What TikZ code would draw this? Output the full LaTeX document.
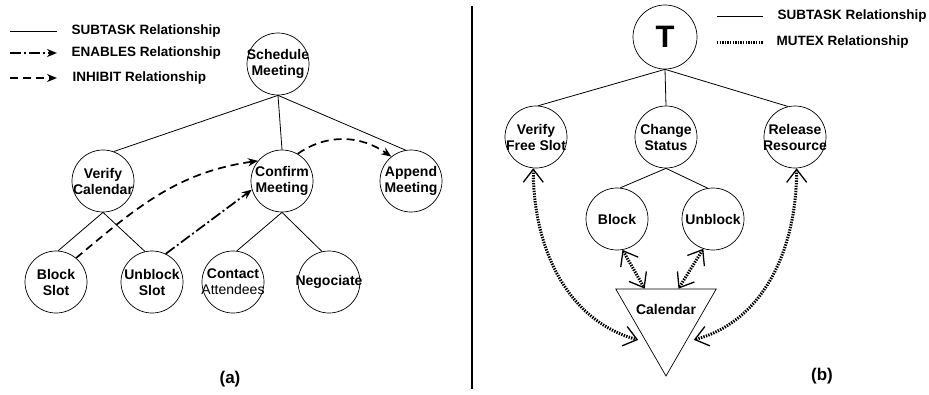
\documentclass[tikz,border=0pt]{standalone}
\usepackage{fontspec}
\setmainfont{Liberation Sans}
\usetikzlibrary{arrows.meta, shapes.geometric}

\begin{document}
\begin{tikzpicture}[x=1pt, y=1pt,
    every node/.style={font=\fontsize{14}{16}\selectfont\bfseries, align=center},
    task/.style={draw, circle, minimum size=62pt, inner sep=-4pt, line width=0.7pt},
    subtask/.style={line width=0.8pt},
    enables/.style={line width=1.7pt, dash pattern=on 11pt off 3pt on 2pt off 3pt, -{Stealth[length=10pt, width=8pt]}},
    inhibit/.style={line width=1.7pt, dash pattern=on 8pt off 5pt, -{Stealth[length=10pt, width=8pt]}},
    mutexline/.style={line width=3pt, dash pattern=on 1.4pt off 1.2pt},
    mutex/.style={mutexline, {Straight Barb[length=13pt, width=20pt, line width=1.3pt]}-{Straight Barb[length=13pt, width=20pt, line width=1.3pt]}},
    legtext/.style={anchor=west, font=\fontsize{13.5}{15}\selectfont\bfseries}]

  \useasboundingbox (0,0) rectangle (929,-394);

  % (a) legend
  \coordinate (subA) at (10,-31);  \coordinate (subB) at (57,-31);
  \coordinate (enA) at (10,-53);   \coordinate (enB) at (57,-53);
  \coordinate (inA) at (10,-78);   \coordinate (inB) at (57,-78);
  \draw[subtask] (subA) -- (subB);
  \draw[enables] (enA) -- (enB);
  \draw[inhibit] (inA) -- (inB);
  \node[legtext] (subtxt) at (68,-31) {SUBTASK Relationship};
  \node[legtext] (entxt) at (68,-53) {ENABLES Relationship};
  \node[legtext] (intxt) at (69,-78) {INHIBIT Relationship};

  % (a) task tree
  \node[task] (sched) at (278,-64) {Schedule\\Meeting};
  \node[task] (vcal) at (103,-181) {Verify\\Calendar};
  \node[task] (conf) at (282,-181) {Confirm\\Meeting};
  \node[task] (app) at (411,-181) {Append\\Meeting};
  \node[task] (bslot) at (56,-282) {Block\\Slot};
  \node[task] (uslot) at (152,-282) {Unblock\\Slot};
  \node[task] (contact) at (233,-282) {Contact\\{\mdseries Attendees}};
  \node[task] (nego) at (329,-282) {Negociate};

  \draw[subtask] (sched.south) -- (vcal.70);
  \draw[subtask] (sched.south) -- (conf.north);
  \draw[subtask] (sched.south) -- (app.100);
  \draw[subtask] (vcal.south) -- (bslot.86);
  \draw[subtask] (vcal.south) -- (uslot.103);
  \draw[subtask] (conf.south) -- (contact.83);
  \draw[subtask] (conf.south) -- (nego.103);

  \draw[inhibit] (bslot.50) to[out=40, in=188] (conf.140);
  \draw[inhibit] (conf.60) to[out=35, in=145] (app.129);
  \draw[enables] (uslot.64) -- (conf.196);

  \node[font=\fontsize{17}{17}\selectfont\bfseries] (capA) at (230,-379) {(a)};

  % divider
  \draw[line width=1.5pt] (472,-6) -- (472,-389);

  % (b) legend
  \coordinate (subC) at (717,-16); \coordinate (subD) at (763,-16);
  \coordinate (muA) at (717,-42);  \coordinate (muB) at (763,-42);
  \draw[subtask] (subC) -- (subD);
  \draw[mutexline] (muA) -- (muB);
  \node[legtext] (subtxtb) at (774,-16) {SUBTASK Relationship};
  \node[legtext] (mutxt) at (773,-42) {MUTEX Relationship};

  % (b) task tree
  \node[task, minimum size=64pt, font=\fontsize{31}{31}\selectfont\bfseries] (top) at (665,-37) {T};
  \node[task] (vfs) at (536,-137) {Verify\\Free Slot};
  \node[task] (chg) at (666,-137) {Change\\Status};
  \node[task] (rel) at (795,-137) {Release\\Resource};
  \node[task] (blk) at (617,-219) {Block};
  \node[task] (ublk) at (713,-219) {Unblock};
  \node[draw, line width=0.7pt, regular polygon, regular polygon sides=3, shape border rotate=180,
        minimum size=116pt, inner sep=0pt, label={[yshift=9pt]center:Calendar}] (cal) at (666,-318) {};

  \draw[subtask] (top.south) -- (vfs.86);
  \draw[subtask] (top.south) -- (chg.north);
  \draw[subtask] (top.south) -- (rel.103);
  \draw[subtask] (chg.south) -- (blk.84);
  \draw[subtask] (chg.south) -- (ublk.100);

  \draw[mutex, shorten >=8pt] (vfs.-95) to[out=-90, in=165] (cal.-130);
  \draw[mutex, shorten >=8pt] (rel.-87) to[out=-90, in=15] (cal.-50);
  \draw[mutex] (blk.-80) -- (cal.126);
  \draw[mutex] (ublk.-108) -- (cal.67);

  \node[font=\fontsize{17}{17}\selectfont\bfseries] (capB) at (822,-376) {(b)};
\end{tikzpicture}
\end{document}
